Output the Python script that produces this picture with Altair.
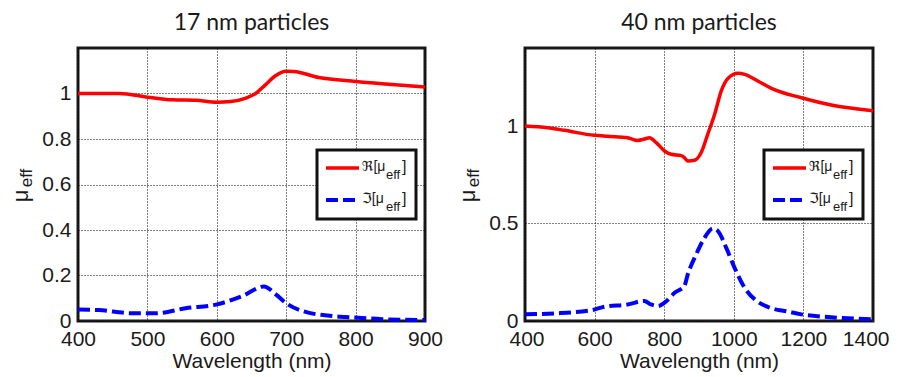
import altair as alt
import pandas as pd

# ---------------- data ----------------
# 17 nm particles
wl17_re = [400, 460, 500, 536, 570, 600, 620, 642, 656, 670, 685, 699, 711, 747, 800, 843, 900]
re17 = [1.0, 1.0, 0.984, 0.972, 0.970, 0.962, 0.965, 0.980, 1.0, 1.038, 1.079, 1.098, 1.097, 1.070, 1.053, 1.042, 1.029]
wl17_im = [400, 430, 478, 512, 555, 600, 637, 668, 685, 699, 728, 766, 800, 838, 900]
im17 = [0.051, 0.048, 0.034, 0.034, 0.056, 0.073, 0.110, 0.152, 0.117, 0.080, 0.040, 0.022, 0.015, 0.008, 0.004]

# 40 nm particles
wl40_re = [400, 465, 513, 599, 638, 695, 724, 743, 758, 777, 801, 820, 849, 858, 868, 887, 906, 925,
           945, 964, 983, 1012, 1031, 1069, 1108, 1194, 1280, 1400]
re40 = [1.0, 0.991, 0.978, 0.952, 0.947, 0.940, 0.926, 0.933, 0.940, 0.915, 0.872, 0.855, 0.848, 0.838,
        0.820, 0.824, 0.863, 0.957, 1.060, 1.180, 1.244, 1.270, 1.265, 1.231, 1.193, 1.145, 1.108, 1.078]
wl40_im = [400, 484, 590, 628, 695, 743, 762, 782, 801, 830, 858, 868, 892, 916, 940, 954, 978, 1002,
           1031, 1060, 1098, 1156, 1194, 1271, 1400]
im40 = [0.034, 0.039, 0.055, 0.073, 0.085, 0.103, 0.085, 0.077, 0.094, 0.145, 0.180, 0.240, 0.342, 0.427,
        0.474, 0.462, 0.376, 0.274, 0.171, 0.111, 0.072, 0.048, 0.034, 0.020, 0.009]

titles = ["17 nm particles", "40 nm particles"]
x_ticks_17 = [400, 500, 600, 700, 800, 900]
x_ticks_40 = [400, 600, 800, 1000, 1200, 1400]
y_ticks_17 = [0, 0.2, 0.4, 0.6, 0.8, 1.0]
y_ticks_40 = [0, 0.5, 1.0]
legend_re = "\u211c[\u03bc"
legend_im = "\u2111[\u03bc"

H = 273
TXT = "#1a1a1a"
FONT = "Arial, Liberation Sans, DejaVu Sans"
RE_W, IM_W, DASH = 3.5, 4, [12, 5]


def panel(title, wl_re, re, wl_im, im, xdom, xvals, ydom, yvals, width, flush):
    dre = pd.DataFrame({"wl": wl_re, "v": re})
    dim = pd.DataFrame({"wl": wl_im, "v": im})
    one = pd.DataFrame({"a": [0]})
    xaxis = alt.Axis(values=xvals, title="Wavelength (nm)", format="d",
                     labelFlush=flush, labelFlushOffset=16 if flush else 0)
    x = alt.X("wl:Q", scale=alt.Scale(domain=xdom, nice=False, zero=False, padding=0), axis=xaxis)
    y = alt.Y("v:Q", scale=alt.Scale(domain=ydom, nice=False, zero=False, padding=0),
              axis=alt.Axis(values=yvals, title=None, format="~g", labelFlush=False))
    red = alt.Chart(dre).mark_line(color="#ff0000", strokeWidth=RE_W, interpolate="monotone").encode(x=x, y=y)
    blue = alt.Chart(dim).mark_line(color="#0000ff", strokeWidth=IM_W, strokeDash=DASH,
                                    interpolate="monotone").encode(x=x, y=y)
    box = alt.Chart(one).mark_rect(fill="white", stroke="#111", strokeWidth=3).encode(
        x=alt.value(239), x2=alt.value(338), y=alt.value(102), y2=alt.value(171))
    s_re = alt.Chart(one).mark_rule(color="#ff0000", strokeWidth=RE_W).encode(
        x=alt.value(248), x2=alt.value(281), y=alt.value(120))
    s_im = alt.Chart(one).mark_rule(color="#0000ff", strokeWidth=IM_W, strokeDash=DASH).encode(
        x=alt.value(248), x2=alt.value(281), y=alt.value(152))

    def txt(t, xv, yv, size, **kw):
        return alt.Chart(one).mark_text(text=t, font=FONT, fontSize=size, color=TXT, align="left",
                                        baseline="middle", **kw).encode(x=alt.value(xv), y=alt.value(yv))

    leg = [
        txt(legend_re, 284, 119, 14), txt("eff", 308, 127, 13), txt("]", 324, 119, 16),
        txt(legend_im, 284, 151, 14), txt("eff", 308, 159, 13), txt("]", 324, 151, 16),
    ]
    mu = alt.Chart(one).mark_text(text="\u03bc", font=FONT, fontSize=22, color=TXT, angle=270,
                                  align="center", baseline="middle").encode(x=alt.value(-57.5), y=alt.value(148))
    eff = alt.Chart(one).mark_text(text="eff", font=FONT, fontSize=17, color=TXT, angle=270,
                                   align="center", baseline="middle").encode(x=alt.value(-51.5), y=alt.value(130))
    return alt.layer(red, blue, box, s_re, s_im, *leg, mu, eff).properties(
        width=width, height=H, title=title)


left = panel(titles[0], wl17_re, re17, wl17_im, im17, [400, 900], x_ticks_17, [0, 1.2], y_ticks_17, 347, False)
right = panel(titles[1], wl40_re, re40, wl40_im, im40, [400, 1400], x_ticks_40, [0, 1.4], y_ticks_40, 348, True)

chart = alt.hconcat(left, right, spacing=100, bounds="flush").properties(
    padding={"left": 0, "right": 0, "top": 2, "bottom": 0}
).configure_view(
    stroke="#1a1a1a", strokeWidth=3
).configure_axis(
    labelFont="Arial", labelFontSize=21, labelColor=TXT, labelOverlap=False,
    titleFont="Arial", titleFontSize=21, titleFontWeight="normal", titleColor=TXT,
    grid=True, gridColor="#000000", gridDash=[1, 2], gridWidth=1, gridOpacity=1,
    domain=False, ticks=False, labelPadding=7, titlePadding=1
).configure_title(
    font="Lato", fontSize=23, fontWeight="normal", color=TXT, offset=13.5, anchor="middle"
)

chart.save("out.html", embed_options={"renderer": "svg", "actions": False})
